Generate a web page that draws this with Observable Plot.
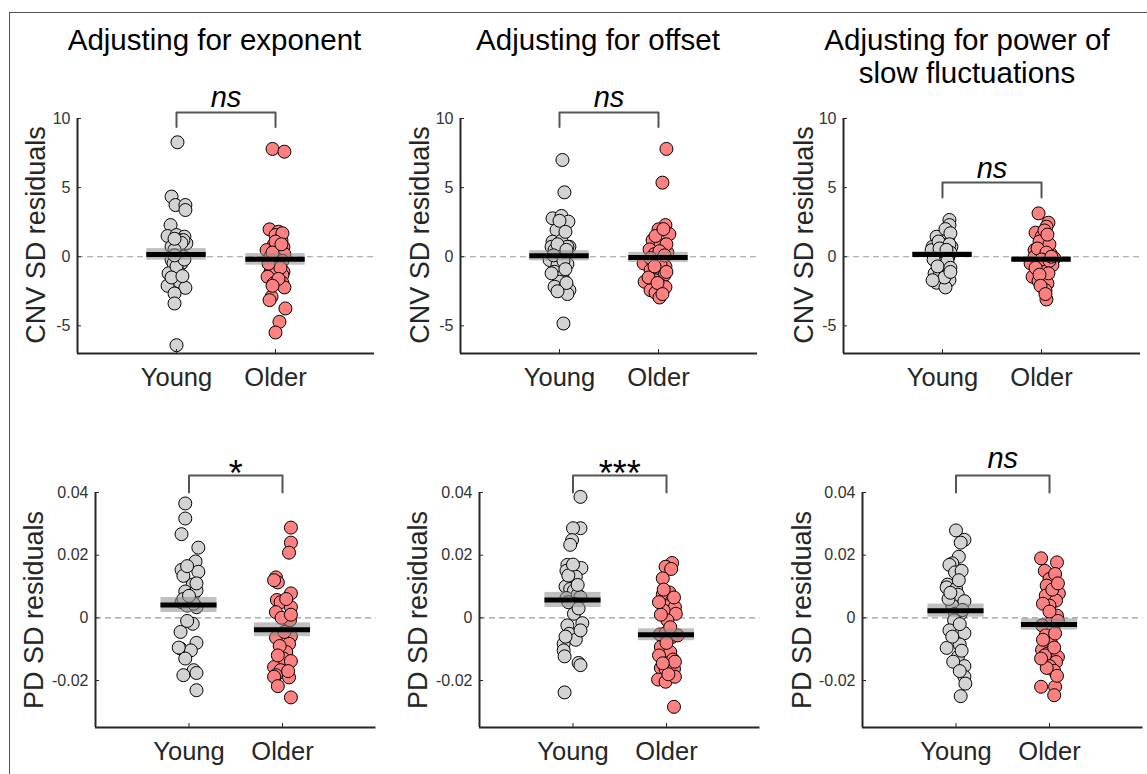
<!DOCTYPE html>
<html>
<head>
<meta charset="utf-8">
<script src="https://cdn.jsdelivr.net/npm/d3@7"></script>
<script src="https://cdn.jsdelivr.net/npm/@observablehq/plot@0.6"></script>
<style>
  html, body { margin: 0; padding: 0; background: #fff; }
  #wrap { position: relative; width: 1147px; height: 774px; overflow: hidden; background: #fff;
          font-family: Arial, "Liberation Sans", sans-serif; }
  .frame { position: absolute; left: 9px; top: 12px; right: -2px; bottom: -2px; border-top: 1px solid #555; border-left: 1px solid #555; }
  .title { position: absolute; top: 23px; font-size: 29.5px; line-height: 33px; color: #000; text-align: center; white-space: nowrap; transform: translateX(-50%); }
  .ylab { position: absolute; font-size: 27px; color: #262626; white-space: nowrap; transform: translate(-50%, -50%) rotate(-90deg); }
  .panel { position: absolute; }
</style>
</head>
<body>
<div id="wrap">
  <div class="frame"></div>
</div>
<script>
// ---------- data ----------
const groups = ["Young", "Older"];
const titles = ["Adjusting for exponent", "Adjusting for offset", "Adjusting for power of<br>slow fluctuations"];
const rowLabels = ["CNV SD residuals", "PD SD residuals"];
const cnvTicks = [-5, 0, 5, 10];
const pdTicks = [-0.02, 0, 0.02, 0.04];
const cnvDomain = [-7, 10];
const pdDomain = [-0.035, 0.04];

// Adjusting for exponent – CNV SD residuals
const expCnvYoung = [8.28, 4.35, 3.74, 3.74, 3.38, 2.29, 1.5, 1.57, 1.45, 1.2, 0.97, 1.2, 0.72, 0.36, 0, -0.24, -0.48, -0.48, -1.09, -1.2, -1.1, -1.8, -2.1, -2.25, -2.66, -3.38, -6.4, 1.0, 0.5, -0.7, -1.5, -0.2, 1.3, 0.1, -1.4];
const expCnvYoungJit = [0.01, -0.05, -0.01, 0.09, 0.09, -0.06, -0.09, 0, 0.08, 0.03, 0.1, 0.07, -0.05, 0.02, 0.07, -0.05, -0.03, 0.05, -0.02, -0.08, 0.02, 0.03, -0.09, 0.09, -0.02, -0.02, 0, 0.05, -0.02, 0, -0.05, 0.08, -0.02, -0.02, 0.06];
const expCnvOlder = [7.8, 7.6, 1.98, 1.81, 1.57, 1.33, 1.2, 0.97, 0.85, 0.48, 0.6, 0.72, 0.19, 0, -0.24, -0.6, -1.09, -1.0, -1.09, -1.45, -1.33, -1.93, -1.88, -2.22, -2.9, -3.14, -3.74, -4.71, -5.48, 1.7, 1.1, 0.3, -0.3, -0.8, -1.6, -2.1, 0.9, -0.5];
const expCnvOlderJit = [-0.03, 0.09, -0.06, 0.03, 0, 0.05, 0.06, 0.03, -0.02, -0.09, 0, 0.08, 0.09, -0.05, 0.03, 0.01, 0.08, -0.02, -0.05, -0.08, 0.07, -0.02, 0.07, 0.09, -0.04, -0.06, 0.1, 0.04, 0, 0.07, 0, -0.03, 0.07, 0.05, 0.03, -0.03, 0.06, -0.07];

// Adjusting for offset – CNV SD residuals
const offCnvYoung = [7.0, 4.66, 2.78, 2.95, 2.54, 1.93, 1.09, 1.16, 0.72, 0.72, 0.72, 0.48, 0.24, -0.24, -0.6, -0.53, -1.09, -1.45, -1.81, -2.17, -2.29, -2.42, -2.7, -4.83, 2.6, 1.8, 0.9, 0.1, -0.3, -0.9, -1.2, -1.9, -2.5, 0.5];
const offCnvYoungJit = [0.03, 0.05, -0.07, 0.02, 0.09, -0.03, -0.07, 0.02, 0.1, 0.08, -0.08, -0.05, 0.05, -0.1, -0.02, 0.08, -0.05, 0.03, 0, -0.05, 0.05, 0.1, 0.08, 0.04, 0, 0.06, -0.02, -0.06, 0.04, 0.06, -0.08, 0.07, -0.02, 0.07];
const offCnvOlder = [7.8, 5.36, 2.29, 1.98, 1.64, 1.2, 0.85, 0.53, 0.29, 0.19, -0.19, -0.48, -0.97, -0.97, -0.72, -1.33, -1.81, -1.69, -2.05, -2.42, -2.6, -2.95, 1.5, 0.9, 0.4, -0.1, -0.5, -1.1, -1.5, -2.2, 0.1, -0.7, -1.9, -2.7, 2.0];
const offCnvOlderJit = [0.08, 0.04, 0.07, 0, 0.11, -0.06, 0.02, -0.09, 0.09, -0.04, 0.05, -0.15, -0.08, -0.01, 0.07, 0.06, -0.14, -0.04, 0.02, -0.08, -0.03, 0.01, -0.03, 0.08, 0.01, -0.08, 0.02, 0.08, -0.1, 0.07, 0.06, -0.04, -0.01, 0.04, 0.05];

// Adjusting for power of slow fluctuations – CNV SD residuals
const slowCnvYoung = [2.66, 2.29, 1.45, 1.45, 1.45, 0.72, 0.85, 0.72, 0.48, 0.24, 0, 0, -0.48, -0.97, -1.21, -1.33, -1.69, -1.88, -2.22, 2.0, 1.7, 1.1, 0.9, 0.6, 0.3, -0.2, -0.3, -0.7, -0.8, -1.5, -1.1, 0.5, -1.7];
const slowCnvYoungJit = [0.07, 0.07, -0.01, -0.06, 0.06, -0.1, 0.01, 0.09, -0.11, -0.01, -0.06, 0.06, 0.01, 0.04, -0.08, -0.03, 0.07, -0.06, 0.03, 0.03, 0.08, -0.04, 0.07, -0.03, 0.08, -0.09, 0.05, -0.05, 0.08, 0.02, 0.08, 0.04, -0.1];
const slowCnvOlder = [3.14, 2.46, 2.17, 1.74, 1.45, 1.33, 0.48, 0.24, 0.12, 0, -0.12, -0.48, -0.48, -0.6, -1.04, -1.45, -1.76, -1.93, -2.42, -3.09, 1.9, 1.1, 0.9, 0.6, 0.3, -0.2, -0.3, -0.8, -1.2, -1.3, -2.1, -2.7, 0.0, 1.6];
const slowCnvOlderJit = [-0.03, 0.07, 0.05, -0.06, 0, 0.03, -0.07, 0.09, -0.02, -0.07, 0.13, -0.11, -0.01, 0.11, 0.03, -0.09, -0.03, 0.06, 0.04, 0.05, 0.03, -0.02, 0.08, -0.04, 0.05, 0, 0.08, -0.06, 0.07, -0.02, -0.01, 0.04, 0.1, 0.06];

// Adjusting for exponent – PD SD residuals
const expPdYoung = [0.0365, 0.0317, 0.0267, 0.0224, 0.018, 0.0153, 0.0147, 0.0134, 0.0106, 0.0084, 0.0076, 0.0087, 0.005, 0.0055, 0.0034, 0.0039, -0.0019, -0.0045, -0.008, -0.0098, -0.0104, -0.0095, -0.013, -0.0167, -0.0183, -0.0176, -0.0231, 0.006, 0.0045, -0.001, 0.007, 0.011, 0.0165];
const expPdYoungJit = [-0.04, -0.04, -0.08, 0.1, 0.07, -0.08, 0.1, -0.06, 0.04, -0.04, 0.05, 0.08, -0.08, 0.02, 0.08, -0.02, 0.04, -0.09, 0.08, -0.09, 0.02, -0.11, -0.04, 0.05, -0.06, 0.08, 0.08, -0.06, 0.05, -0.02, 0, 0.08, -0.02];
const expPdOlder = [0.0288, 0.024, 0.0208, 0.0129, 0.0113, 0.0078, 0.0057, 0.005, 0.0034, 0.0018, -0.0003, -0.0008, -0.0063, -0.0059, -0.0083, -0.0109, -0.013, -0.0138, -0.0157, -0.0167, -0.0183, -0.0188, -0.019, -0.0218, -0.0254, 0.012, 0.006, 0.0, -0.0045, -0.009, -0.017, 0.001, -0.012];
const expPdOlderJit = [0.09, 0.09, 0.07, -0.07, -0.05, 0.09, -0.06, -0.02, 0.09, -0.07, 0.05, 0.08, -0.07, 0.09, 0.07, 0.04, 0.01, 0.09, -0.09, -0.02, -0.07, -0.09, 0.07, -0.05, 0.09, -0.09, 0.04, -0.01, 0.02, -0.03, 0.06, 0.09, -0.05];

// Adjusting for offset – PD SD residuals
const offPdYoung = [0.0386, 0.0286, 0.0286, 0.0248, 0.0233, 0.0169, 0.015, 0.0159, 0.0159, 0.0131, 0.01, 0.0092, 0.0087, 0.0063, 0.0074, 0.0066, 0.0044, 0.0013, -0.0017, -0.0024, -0.0051, -0.007, -0.0083, -0.0104, -0.0123, -0.0144, -0.0151, -0.0238, 0.0105, 0.005, 0.003, -0.004, -0.006, 0.0135, 0.017];
const offPdYoungJit = [0.08, 0.08, 0, -0.01, -0.03, -0.06, -0.07, 0.03, 0.09, 0.03, -0.08, -0.03, 0.01, -0.07, 0.05, 0.08, 0.02, 0.01, 0.1, -0.06, -0.04, 0.03, -0.1, -0.1, -0.09, 0.06, 0.08, -0.09, 0.05, -0.05, 0.06, 0.08, -0.08, -0.05, 0];
const offPdOlder = [0.0175, 0.0163, 0.0156, 0.0126, 0.0081, 0.0074, 0.0055, 0.0037, 0.0034, 0.0023, 0.0013, -0.0008, -0.0053, -0.0061, -0.0049, -0.0056, -0.0093, -0.0109, -0.0133, -0.016, -0.0163, -0.0163, -0.0197, -0.0204, -0.0188, -0.0284, 0.009, 0.0065, 0.001, -0.003, -0.008, -0.012, -0.014, -0.018, 0.005, -0.0145];
const offPdOlderJit = [0.06, -0.01, 0.05, -0.04, 0.03, -0.04, 0.06, 0, 0.09, -0.03, 0.1, 0.01, -0.07, 0.06, -0.01, 0.12, -0.06, 0.04, 0.07, -0.06, -0.01, 0.08, -0.09, -0.01, 0.09, 0.08, -0.03, 0.08, -0.06, 0.04, 0, -0.08, 0.09, 0.02, -0.08, -0.04];

// Adjusting for power of slow fluctuations – PD SD residuals
const slowPdYoung = [0.0279, 0.0249, 0.024, 0.0195, 0.0174, 0.0169, 0.0145, 0.0106, 0.0097, 0.0092, 0.0074, 0.0053, 0.0039, 0.0013, 0.0013, -0.0008, -0.004, -0.0049, -0.0096, -0.0085, -0.0125, -0.0154, -0.0188, -0.021, -0.025, 0.015, 0.012, 0.006, 0.0025, -0.002, -0.006, -0.0105, -0.014, 0.008, -0.017];
const slowPdYoungJit = [0, 0.09, 0.05, 0.03, -0.04, -0.07, -0.01, -0.09, -0.1, 0, 0.02, 0.09, -0.04, 0.05, -0.01, -0.02, -0.07, 0.09, -0.1, 0.04, 0.02, 0.09, 0.09, 0.1, 0.05, 0.06, 0.03, -0.08, 0.07, 0.04, -0.04, 0.06, -0.03, -0.06, 0.04];
const slowPdOlder = [0.019, 0.0177, 0.015, 0.0124, 0.0103, 0.0078, 0.0071, 0.0055, 0.0039, 0.0007, -0.0017, -0.0024, -0.0035, -0.0056, -0.0083, -0.0102, -0.0114, -0.012, -0.0125, -0.0141, -0.0154, -0.0169, -0.022, -0.022, -0.0247, 0.014, 0.009, 0.0045, 0.002, -0.001, -0.005, -0.007, -0.0095, -0.016, -0.0185, 0.011, -0.013];
const slowPdOlderJit = [-0.09, 0.08, -0.05, 0, -0.03, 0.1, -0.04, 0.07, 0, 0.08, 0.01, -0.08, 0.04, -0.04, 0.02, -0.08, -0.02, -0.05, 0.09, 0.07, 0, 0.05, -0.09, 0.06, 0.05, 0.06, 0.03, -0.07, 0, 0.09, 0.06, -0.07, 0.05, -0.03, 0.08, 0.09, -0.09];

// group means and standard errors [Young, Older]
const expCnvMean = [0.17, -0.19],  expCnvSE = [0.42, 0.42];
const offCnvMean = [0.07, -0.05],  offCnvSE = [0.37, 0.37];
const slowCnvMean = [0.17, -0.19], slowCnvSE = [0.2, 0.2];
const expPdMean = [0.0041, -0.0038], expPdSE = [0.0024, 0.0022];
const offPdMean = [0.0057, -0.0054], offPdSE = [0.0024, 0.0019];
const slowPdMean = [0.0023, -0.0021], slowPdSE = [0.0021, 0.0018];

// significance labels and bracket heights [leg bottom, bar top, label baseline]
const sigLabels = ["ns", "ns", "ns", "*", "***", "ns"];
const sigBrackets = [[9.38, 10.43, 10.8], [9.38, 10.43, 10.8], [4.28, 5.37, 5.66],
                     [0.04, 0.0454, 0.0422], [0.04, 0.0454, 0.0422], [0.04, 0.0454, 0.0477]];

// ---------- drawing ----------
const youngFill = "#d3d3d3";
const olderFill = "#ff8080";
const axisColor = "#262626";

function pts(vals, jit, g) { return vals.map((v, i) => ({g, x: g + jit[i], y: v})); }

const panels = [
  {y: expCnvYoung, yj: expCnvYoungJit, o: expCnvOlder, oj: expCnvOlderJit, m: expCnvMean, se: expCnvSE, row: 0, col: 0},
  {y: offCnvYoung, yj: offCnvYoungJit, o: offCnvOlder, oj: offCnvOlderJit, m: offCnvMean, se: offCnvSE, row: 0, col: 1},
  {y: slowCnvYoung, yj: slowCnvYoungJit, o: slowCnvOlder, oj: slowCnvOlderJit, m: slowCnvMean, se: slowCnvSE, row: 0, col: 2},
  {y: expPdYoung, yj: expPdYoungJit, o: expPdOlder, oj: expPdOlderJit, m: expPdMean, se: expPdSE, row: 1, col: 0},
  {y: offPdYoung, yj: offPdYoungJit, o: offPdOlder, oj: offPdOlderJit, m: offPdMean, se: offPdSE, row: 1, col: 1},
  {y: slowPdYoung, yj: slowPdYoungJit, o: slowPdOlder, oj: slowPdOlderJit, m: slowPdMean, se: slowPdSE, row: 1, col: 2}
];

const rowGeom = [
  {top: 80, height: 330, mt: 38, mb: 57, ml: 77, unit: 99, lefts: [0, 383, 766], domain: cnvDomain, ticks: cnvTicks, fmt: d => String(d)},
  {top: 450, height: 320, mt: 42, mb: 43, ml: 95, unit: 93.5, lefts: [0, 384, 767], domain: pdDomain, ticks: pdTicks, fmt: d => d === 0 ? "0" : String(d)}
];

const wrap = document.getElementById("wrap");

panels.forEach((p, idx) => {
  const G = rowGeom[p.row];
  const width = G.ml + 3 * G.unit;
  const means = p.m.map((v, i) => ({g: i + 1, m: v, se: p.se[i]}));
  const br = sigBrackets[idx];
  const bracket = [{x: 1, y: br[0]}, {x: 1, y: br[1]}, {x: 2, y: br[1]}, {x: 2, y: br[0]}];
  const sig = sigLabels[idx];
  const isNs = sig === "ns";

  const chart = Plot.plot({
    width, height: G.height,
    marginLeft: G.ml, marginRight: 0, marginTop: G.mt, marginBottom: G.mb,
    style: {background: "transparent", overflow: "visible", fontFamily: "Arial, 'Liberation Sans', sans-serif"},
    x: {domain: [0, 3], axis: null},
    y: {domain: G.domain, axis: null},
    marks: [
      Plot.ruleY([0], {x1: 0, x2: 3, stroke: "#9a9a9a", strokeWidth: 1.2, strokeDasharray: "6,4"}),
      Plot.dot(pts(p.y, p.yj, 1), {x: "x", y: "y", r: 6.5, fill: youngFill, stroke: "#000", strokeWidth: 1}),
      Plot.dot(pts(p.o, p.oj, 2), {x: "x", y: "y", r: 6.5, fill: olderFill, stroke: "#000", strokeWidth: 1}),
      Plot.rect(means, {x1: d => d.g - 0.3, x2: d => d.g + 0.3, y1: d => d.m - d.se, y2: d => d.m + d.se, fill: "#8c8c8c", fillOpacity: 0.55}),
      Plot.ruleY(means, {y: "m", x1: d => d.g - 0.3, x2: d => d.g + 0.3, stroke: "#000", strokeWidth: 5}),
      Plot.line(bracket, {x: "x", y: "y", stroke: "#555", strokeWidth: 2, strokeLinejoin: "round", curve: "linear"}),
      Plot.text([sig], {x: () => 1.5, y: () => br[2], text: d => d, fontSize: isNs ? 29 : 36, fontStyle: isNs ? "italic" : "normal", lineAnchor: "bottom", textAnchor: "middle", fill: "#000"}),
      Plot.ruleX([0], {y1: G.domain[0], y2: G.domain[1], stroke: axisColor, strokeWidth: 2}),
      Plot.ruleY([G.domain[0]], {x1: 0, x2: 3, stroke: axisColor, strokeWidth: 2}),
      Plot.axisY({ticks: G.ticks, tickFormat: G.fmt, tickSize: -4, tickPadding: 11, fontSize: 16, color: "#333", stroke: axisColor, label: null}),
      Plot.axisX({ticks: [1, 2], tickFormat: d => groups[d - 1], tickSize: -4, tickPadding: 18, fontSize: 25.5, color: "#262626", stroke: axisColor, label: null})
    ]
  });
  chart.classList.add("panel");
  chart.style.left = G.lefts[p.col] + "px";
  chart.style.top = G.top + "px";
  chart.style.position = "absolute";
  wrap.appendChild(chart);
});

// titles
const titleCenters = [214.5, 598, 967];
titles.forEach((t, i) => {
  const d = document.createElement("div");
  d.className = "title";
  d.innerHTML = t;
  d.style.left = titleCenters[i] + "px";
  wrap.appendChild(d);
});

// row labels (y axis titles)
const ylabPos = [
  [[36, 235], [420, 235], [804, 235]],
  [[34, 609.5], [418, 609.5], [802, 609.5]]
];
ylabPos.forEach((row, r) => row.forEach(([cx, cy]) => {
  const d = document.createElement("div");
  d.className = "ylab";
  d.textContent = rowLabels[r];
  d.style.left = cx + "px";
  d.style.top = cy + "px";
  wrap.appendChild(d);
}));
</script>
</body>
</html>
